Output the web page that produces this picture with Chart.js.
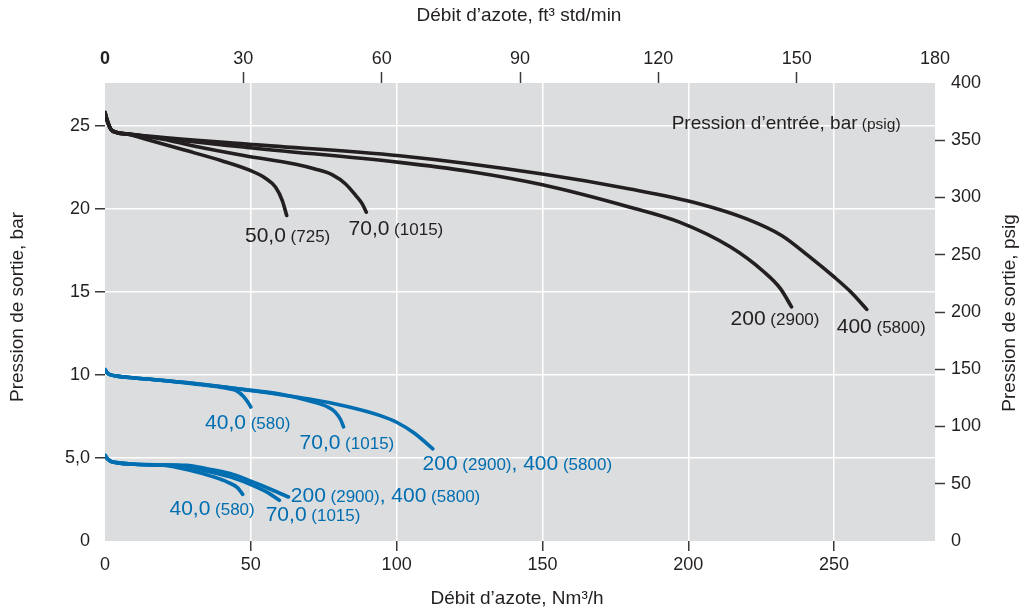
<!DOCTYPE html>
<html>
<head>
<meta charset="utf-8">
<script src="https://cdn.jsdelivr.net/npm/chart.js@4.4.1/dist/chart.umd.min.js"></script>
<style>
  html, body { margin: 0; padding: 0; background: #fff; }
</style>
</head>
<body>
<canvas id="chart" width="1021" height="609"></canvas>
<script>
// axes
const xTicks = [0, 50, 100, 150, 200, 250];          // Nm3/h
const x2Ticks = [0, 30, 60, 90, 120, 150, 180];      // ft3 std/min
const yTicks = [0, 5, 10, 15, 20, 25];               // bar
const yTickLabels = ['0', '5,0', '10', '15', '20', '25'];
const y2Ticks = [0, 50, 100, 150, 200, 250, 300, 350, 400]; // psig

// courbes noires (sortie ~25 bar)
const flow50 = [0, 0.8, 2, 4, 8, 15, 26, 40, 50, 55, 58.5, 60.8, 62.3];
const out50 = [25.8, 25.3, 24.8, 24.6, 24.5, 24.15, 23.6, 22.9, 22.3, 21.85, 21.3, 20.5, 19.6];
const flow70 = [0, 0.8, 2, 4, 8, 20, 30, 48, 65, 72, 78, 82.5, 86, 88.2, 89.6];
const out70 = [25.8, 25.3, 24.8, 24.6, 24.5, 24.2, 23.8, 23.2, 22.7, 22.4, 22.05, 21.5, 20.8, 20.3, 19.8];
const flow200 = [0, 0.8, 2, 4, 8, 48.6, 101, 125, 150, 180, 197, 214.5, 226, 231.6, 235.4];
const out200 = [25.8, 25.3, 24.8, 24.6, 24.5, 23.7, 22.8, 22.25, 21.45, 20.1, 19.2, 17.7, 16.2, 15.2, 14.1];
const flow400 = [0, 0.8, 2, 4, 8, 48.6, 101, 150, 180, 204, 220, 232, 241, 250, 256, 261.2];
const out400 = [25.8, 25.3, 24.8, 24.6, 24.5, 23.9, 23.2, 22.1, 21.2, 20.3, 19.4, 18.4, 17.2, 15.9, 14.95, 13.95];

// courbes bleues (sortie ~10 bar)
const flowM40 = [0, 0.8, 2, 4, 10, 19, 30, 41.7, 45, 47.5, 49, 50];
const outM40 = [10.32, 10.12, 10.0, 9.93, 9.82, 9.68, 9.47, 9.2, 9.05, 8.7, 8.35, 8.07];
const flowM70 = [0, 0.8, 2, 4, 10, 19, 30, 48.6, 60, 71.5, 76, 78.9, 80.8, 81.8];
const outM70 = [10.32, 10.12, 10.0, 9.93, 9.82, 9.68, 9.5, 9.1, 8.85, 8.37, 8.1, 7.77, 7.3, 6.87];
const flowM200 = [0, 0.8, 2, 4, 10, 19, 30, 48.6, 70, 83, 94.4, 100, 106, 112.4];
const outM200 = [10.32, 10.12, 10.0, 9.93, 9.82, 9.68, 9.5, 9.1, 8.55, 8.1, 7.55, 7.15, 6.5, 5.55];

// courbes bleues (sortie ~5 bar)
const flowL40 = [0, 0.8, 2, 4, 10, 20, 28, 37.2, 42, 45.5, 47.2];
const outL40 = [5.16, 4.95, 4.8, 4.72, 4.62, 4.56, 4.3, 3.86, 3.55, 3.2, 2.81];
const flowL70 = [0, 0.8, 2, 4, 10, 20, 25.7, 35, 42.9, 52, 56, 59.8];
const outL70 = [5.16, 4.95, 4.8, 4.72, 4.62, 4.57, 4.55, 4.2, 3.86, 3.25, 2.9, 2.45];
const flowL200 = [0, 0.8, 2, 4, 10, 20, 28, 35, 42.9, 52, 57, 62.9];
const outL200 = [5.16, 4.95, 4.8, 4.72, 4.62, 4.58, 4.56, 4.35, 4.06, 3.46, 3.1, 2.65];

const black = '#231f20';
const blue = '#006eb0';
const tickCol = '#3a3a3a';
const FONT = '"Liberation Sans", Arial, Helvetica, sans-serif';

function pts(xs, ys) {
    return xs.map((x, i) => ({ x: x, y: ys[i] }));
}

function curve(xs, ys, color) {
    return {
        data: pts(xs, ys),
        showLine: true,
        borderColor: color,
        borderWidth: 3.6,
        pointRadius: 0,
        cubicInterpolationMode: 'monotone',
        borderCapStyle: 'round',
        borderJoinStyle: 'round',
        fill: false,
        xAxisID: 'x',
        yAxisID: 'y'
    };
}

// étiquettes des courbes (ancrées sur la ligne de base, en unités de données)
const curveLabels = [
    { x: 48.0, y: 18.01, color: black, parts: [['50,0', 21], [' (725)', 17]] },
    { x: 83.5, y: 18.42, color: black, parts: [['70,0', 21], [' (1015)', 17]] },
    { x: 214.5, y: 12.99, color: black, parts: [['200', 21], [' (2900)', 17]] },
    { x: 250.9, y: 12.5, color: black, parts: [['400', 21], [' (5800)', 17]] },
    { x: 34.3, y: 6.76, color: blue, parts: [['40,0', 21], [' (580)', 17]] },
    { x: 66.7, y: 5.52, color: blue, parts: [['70,0', 21], [' (1015)', 17]] },
    { x: 108.9, y: 4.26, color: blue, parts: [['200', 21], [' (2900)', 17], [', 400', 21], [' (5800)', 17]] },
    { x: 22.1, y: 1.59, color: blue, parts: [['40,0', 21], [' (580)', 17]] },
    { x: 55.1, y: 1.18, color: blue, parts: [['70,0', 21], [' (1015)', 17]] },
    { x: 63.7, y: 2.35, color: blue, parts: [['200', 21], [' (2900)', 17], [', 400', 21], [' (5800)', 17]] }
];

const bgPlugin = {
    id: 'bg',
    beforeDraw(chart) {
        const c = chart.ctx, a = chart.chartArea;
        c.save();
        c.fillStyle = '#fff';
        c.fillRect(0, 0, chart.width, chart.height);
        c.fillStyle = '#dcdddf';
        c.fillRect(a.left, a.top, a.right - a.left, a.bottom - a.top);
        c.restore();
    }
};

function drawParts(c, parts, x, y, color, align) {
    c.fillStyle = color;
    c.textBaseline = 'alphabetic';
    c.textAlign = 'left';
    let total = 0;
    parts.forEach(p => { c.font = p[1] + 'px ' + FONT; total += c.measureText(p[0]).width; });
    let cx = align === 'right' ? x - total : x;
    parts.forEach(p => {
        c.font = p[1] + 'px ' + FONT;
        c.fillText(p[0], cx, y);
        cx += c.measureText(p[0]).width;
    });
}

const textPlugin = {
    id: 'texts',
    afterDraw(chart) {
        const c = chart.ctx;
        const sx = chart.scales.x, sy = chart.scales.y;
        c.save();
        curveLabels.forEach(l => {
            drawParts(c, l.parts, sx.getPixelForValue(l.x), sy.getPixelForValue(l.y), l.color, 'left');
        });
        drawParts(c, [['Pression d’entrée, bar', 19], [' (psig)', 15.5]],
            sx.getPixelForValue(272.8), sy.getPixelForValue(24.79), black, 'right');

        // titres des axes
        c.fillStyle = black;
        c.font = '19px ' + FONT;
        c.textAlign = 'center';
        c.textBaseline = 'middle';
        c.fillText('Débit d’azote, ft³ std/min', 519, 16);
        c.fillText('Débit d’azote, Nm³/h', 517, 599);
        c.save();
        c.translate(18, 307);
        c.rotate(-Math.PI / 2);
        c.fillText('Pression de sortie, bar', 0, 0);
        c.restore();
        c.save();
        c.translate(1010, 313);
        c.rotate(-Math.PI / 2);
        c.fillText('Pression de sortie, psig', 0, 0);
        c.restore();
        c.restore();
    }
};

function hideAt(vals, col) {
    return ctx => (ctx.tick && vals.includes(ctx.tick.value)) ? 'rgba(0,0,0,0)' : col;
}

new Chart(document.getElementById('chart'), {
    type: 'scatter',
    data: {
        datasets: [
            curve(flow50, out50, black),
            curve(flow70, out70, black),
            curve(flow200, out200, black),
            curve(flow400, out400, black),
            curve(flowM40, outM40, blue),
            curve(flowM70, outM70, blue),
            curve(flowM200, outM200, blue),
            curve(flowL40, outL40, blue),
            curve(flowL70, outL70, blue),
            curve(flowL200, outL200, blue)
        ]
    },
    options: {
        responsive: false,
        animation: false,
        layout: { padding: 0 },
        plugins: { legend: { display: false }, tooltip: { enabled: false } },
        scales: {
            x: {
                type: 'linear', position: 'bottom', min: 0, max: 284.6,
                afterBuildTicks: s => { s.ticks = xTicks.map(v => ({ value: v })); },
                afterFit: s => { s.height = 68; },
                ticks: { color: black, font: { size: 18, family: FONT }, padding: 3, maxRotation: 0 },
                grid: { color: hideAt([0], '#ffffff'), lineWidth: 1.5, tickLength: 10,
                        tickColor: hideAt([0], tickCol), tickWidth: 1.5 },
                border: { display: false }
            },
            x2: {
                type: 'linear', position: 'top', min: 0, max: 180,
                afterBuildTicks: s => { s.ticks = x2Ticks.map(v => ({ value: v })); },
                afterFit: s => { s.height = 83; },
                ticks: { color: black, font: ctx => ({ size: 18, family: FONT, weight: ctx.tick && ctx.tick.value === 0 ? 'bold' : 'normal' }), padding: 2, maxRotation: 0 },
                grid: { drawOnChartArea: false, tickLength: 11, tickColor: hideAt([0, 180], tickCol), tickWidth: 1.5 },
                border: { display: false }
            },
            y: {
                type: 'linear', position: 'left', min: 0, max: 27.58,
                afterBuildTicks: s => { s.ticks = yTicks.map(v => ({ value: v })); },
                afterFit: s => { s.width = 105; },
                ticks: { color: black, font: { size: 18, family: FONT }, padding: 5,
                         callback: v => yTickLabels[yTicks.indexOf(v)] },
                grid: { color: hideAt([0], '#ffffff'), lineWidth: 1.5, tickLength: 10,
                        tickColor: hideAt([0], tickCol), tickWidth: 1.5 },
                border: { display: false }
            },
            y2: {
                type: 'linear', position: 'right', min: 0, max: 400,
                afterBuildTicks: s => { s.ticks = y2Ticks.map(v => ({ value: v })); },
                afterFit: s => { s.width = 86; },
                ticks: { color: black, font: { size: 18, family: FONT }, padding: 6 },
                grid: { drawOnChartArea: false, tickLength: 10, tickColor: hideAt([0, 400], tickCol), tickWidth: 1.5 },
                border: { display: false }
            }
        }
    },
    plugins: [bgPlugin, textPlugin]
});
</script>
</body>
</html>
